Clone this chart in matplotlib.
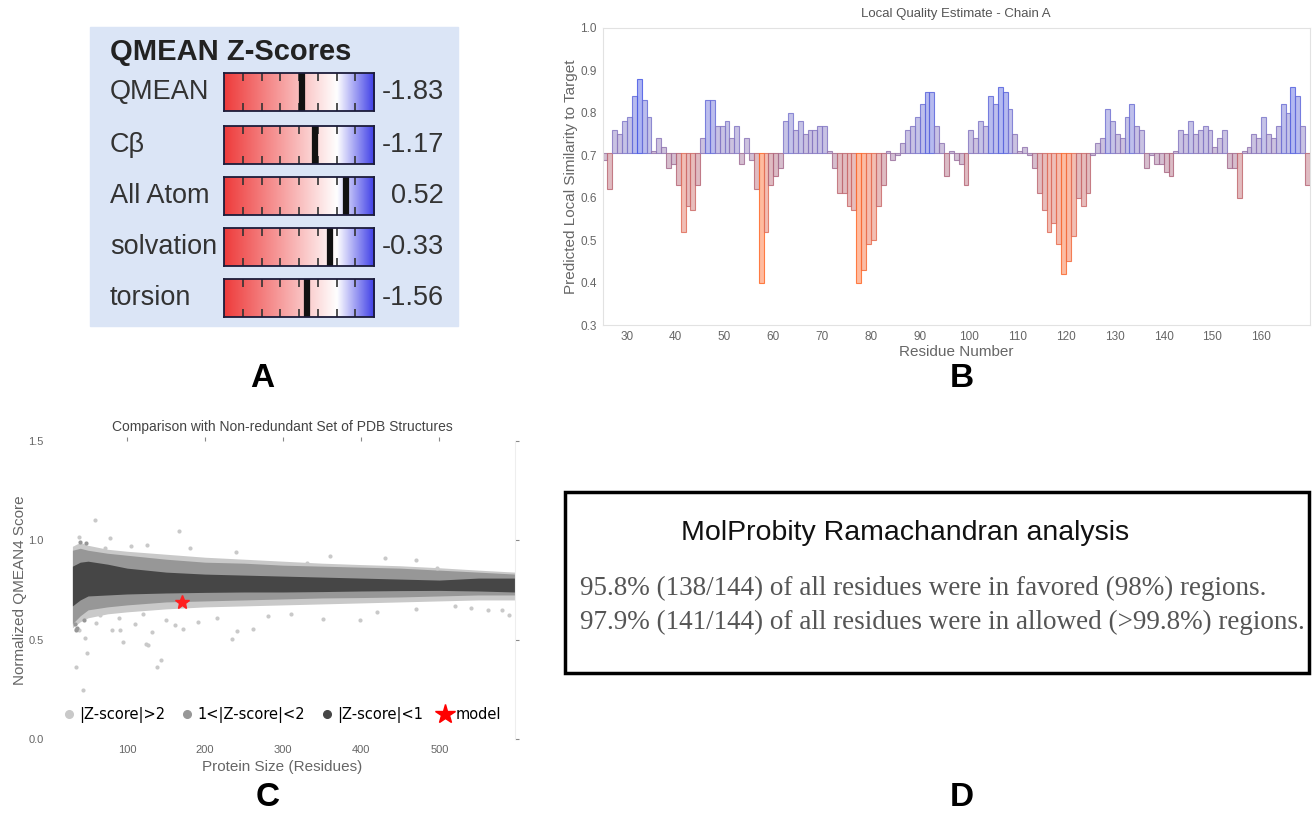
import numpy as np
import matplotlib
matplotlib.use("Agg")
import matplotlib.pyplot as plt
from matplotlib.colors import LinearSegmentedColormap, Normalize
from matplotlib.lines import Line2D
from matplotlib.patches import Rectangle

# ---- panel A: QMEAN Z-scores
z_names = ["QMEAN", "Cβ", "All Atom", "solvation", "torsion"]
z_values = [-1.83, -1.17, 0.52, -0.33, -1.56]

# ---- panel B: local quality per residue
residues = np.arange(25, 170)
local_q = [
    0.69, 0.62, 0.76, 0.75, 0.78, 0.79, 0.84, 0.88, 0.83, 0.79,
    0.71, 0.74, 0.72, 0.67, 0.68, 0.63, 0.52, 0.58, 0.57, 0.63,
    0.74, 0.83, 0.83, 0.77, 0.77, 0.78, 0.74, 0.77, 0.68, 0.74,
    0.69, 0.62, 0.40, 0.52, 0.63, 0.65, 0.67, 0.78, 0.80, 0.76,
    0.78, 0.75, 0.76, 0.76, 0.77, 0.77, 0.71, 0.67, 0.61, 0.61,
    0.58, 0.57, 0.40, 0.43, 0.49, 0.50, 0.58, 0.63, 0.71, 0.69,
    0.70, 0.73, 0.76, 0.77, 0.79, 0.82, 0.85, 0.85, 0.77, 0.73,
    0.65, 0.71, 0.69, 0.68, 0.63, 0.76, 0.74, 0.78, 0.77, 0.84,
    0.82, 0.86, 0.85, 0.81, 0.75, 0.71, 0.72, 0.70, 0.67, 0.61,
    0.57, 0.52, 0.54, 0.49, 0.42, 0.45, 0.51, 0.60, 0.58, 0.61,
    0.70, 0.73, 0.74, 0.81, 0.78, 0.75, 0.74, 0.79, 0.82, 0.77,
    0.76, 0.67, 0.70, 0.68, 0.68, 0.66, 0.65, 0.71, 0.76, 0.75,
    0.78, 0.75, 0.76, 0.77, 0.76, 0.72, 0.74, 0.76, 0.67, 0.67,
    0.60, 0.71, 0.72, 0.75, 0.74, 0.79, 0.75, 0.74, 0.77, 0.82,
    0.80, 0.86, 0.84, 0.77, 0.63,
]

# ---- panel C: reference set envelopes + scattered points
size_x = [30, 40, 50, 75, 100, 150, 200, 250, 300, 350, 400, 450, 500, 550, 597]
dark_hi = [0.87, 0.89, 0.895, 0.88, 0.86, 0.84, 0.83, 0.825, 0.82, 0.815, 0.81, 0.805, 0.80, 0.81, 0.81]
dark_lo = [0.67, 0.70, 0.72, 0.725, 0.73, 0.735, 0.738, 0.74, 0.74, 0.742, 0.745, 0.747, 0.748, 0.745, 0.74]
mid_hi = [0.95, 0.96, 0.95, 0.935, 0.925, 0.905, 0.89, 0.885, 0.875, 0.87, 0.865, 0.86, 0.85, 0.84, 0.83]
mid_lo = [0.58, 0.62, 0.65, 0.665, 0.675, 0.69, 0.695, 0.70, 0.705, 0.71, 0.712, 0.715, 0.72, 0.725, 0.725]
light_hi = [0.97, 0.99, 0.975, 0.955, 0.945, 0.93, 0.915, 0.905, 0.895, 0.885, 0.878, 0.872, 0.862, 0.85, 0.84]
light_lo = [0.56, 0.59, 0.61, 0.63, 0.64, 0.655, 0.665, 0.67, 0.675, 0.68, 0.685, 0.69, 0.695, 0.70, 0.70]
out_x = [59, 167, 38, 78, 72, 331, 497, 562, 589, 580, 351, 399, 261, 235, 241, 34, 43,
         49, 46, 95, 124, 127, 139, 143, 132, 81, 91, 110, 65, 161, 172, 191, 34, 38,
         150, 215, 280, 310, 420, 470, 520, 540, 120, 90, 60, 105, 125, 180, 240, 360,
         430, 470]
out_y = [1.10, 1.047, 1.017, 1.013, 0.963, 0.888, 0.863, 0.647, 0.622, 0.65, 0.605,
         0.597, 0.555, 0.505, 0.543, 0.363, 0.247, 0.433, 0.508, 0.488, 0.48, 0.475,
         0.363, 0.40, 0.538, 0.55, 0.55, 0.58, 0.622, 0.572, 0.555, 0.588, 0.555,
         0.547, 0.60, 0.61, 0.62, 0.63, 0.64, 0.655, 0.67, 0.66, 0.63, 0.61, 0.585,
         0.97, 0.975, 0.96, 0.94, 0.92, 0.91, 0.90]
mid_x = [35, 40, 48, 36, 45, 33]
mid_y = [0.55, 0.99, 0.985, 0.56, 0.60, 0.58]
model_size = 170
model_score = 0.69

# ---- panel D text
rama_title = "MolProbity Ramachandran analysis"
rama_lines = ["95.8% (138/144) of all residues were in favored (98%) regions.",
              "97.9% (141/144) of all residues were in allowed (>99.8%) regions."]

W, H = 1312, 813
fig = plt.figure(figsize=(W / 100, H / 100), dpi=100)


def px_axes(left, top, width, height):
    return fig.add_axes([left / W, 1 - (top + height) / H, width / W, height / H])


# overlay in pixel coordinates for boxes and labels
over = fig.add_axes([0, 0, 1, 1])
over.set_xlim(0, W)
over.set_ylim(H, 0)
over.axis("off")

sans = "Liberation Sans"

# ---------------- panel A
over.add_patch(Rectangle((90, 27), 368, 299, color="#dbe5f6", zorder=0))
over.text(110, 52, "QMEAN Z-Scores", fontsize=21, fontweight="bold", family=sans,
          color="#222222", va="center", ha="left")
zcmap = LinearSegmentedColormap.from_list(
    "zs", [(0, "#ee3b3b"), (0.75, "#ffffff"), (1.0, "#3c3ce6")])
grad = np.linspace(-6, 2, 256).reshape(1, -1)
row_tops = [73, 126, 177, 228, 279]
for name, val, top in zip(z_names, z_values, row_tops):
    ax = px_axes(224, top, 150, 38)
    ax.imshow(grad, extent=(-6, 2, 0, 1), aspect="auto", cmap=zcmap,
              norm=Normalize(-6, 2), interpolation="bicubic")
    ax.axvline(val, color="#111111", lw=4.5)
    ax.set_xlim(-6, 2)
    ax.set_ylim(0, 1)
    ax.set_xticks(range(-5, 2))
    ax.set_yticks([])
    ax.tick_params(axis="x", direction="in", top=True, bottom=True, length=6,
                   width=1.2, color="#333333", labelbottom=False)
    for s in ax.spines.values():
        s.set_color("#1c1c3a")
        s.set_linewidth(1.3)
    yc = top + 19
    over.text(110, yc, name, fontsize=19.5, family=sans, color="#333333",
              va="center", ha="left")
    over.text(444, yc, "%.2f" % val, fontsize=19.5, family=sans, color="#333333",
              va="center", ha="right")

# ---------------- panel B
axb = px_axes(602.6, 28, 707.4, 297)
qcmap = LinearSegmentedColormap.from_list(
    "lq", [(0.0, "#ff6a2a"), (0.25, "#e0705e"), (0.5, "#b0687e"),
           (0.6, "#9a78aa"), (0.8, "#7c7ad0"), (1.0, "#3f55ea")])
qnorm = Normalize(0.4, 0.9)
base = 0.705
heights = [v - base for v in local_q]
face = [qcmap(qnorm(v)) for v in local_q]
face_a = [(r, g, b, 0.45) for r, g, b, _ in face]
edge_a = [(r, g, b, 0.85) for r, g, b, _ in face]
axb.bar(residues, heights, bottom=base, width=1.0, align="edge",
        color=face_a, edgecolor=edge_a, linewidth=0.8)
axb.set_xlim(25, 170)
axb.set_ylim(0.3, 1.0)
axb.set_xticks(range(30, 170, 10))
axb.set_yticks(np.arange(0.3, 1.01, 0.1))
axb.set_yticklabels(["%.1f" % t for t in np.arange(0.3, 1.01, 0.1)])
axb.tick_params(length=0, labelsize=8.5, labelcolor="#666666", pad=4)
for s in axb.spines.values():
    s.set_color("#e2e2e2")
axb.set_title("Local Quality Estimate - Chain A", fontsize=9.5, color="#555555",
              pad=8, family=sans)
axb.set_xlabel("Residue Number", fontsize=11, color="#666666", labelpad=2, family=sans)
axb.set_ylabel("Predicted Local Similarity to Target", fontsize=11, color="#666666",
               labelpad=2, family=sans)
for lab in axb.get_xticklabels() + axb.get_yticklabels():
    lab.set_family(sans)

# ---------------- panel C
axc = px_axes(49, 441, 466, 298)
light_c, mid_c, dark_c = "#c9c9c9", "#979797", "#464646"
axc.fill_between(size_x, light_lo, light_hi, color=light_c, lw=0)
axc.fill_between(size_x, mid_lo, mid_hi, color=mid_c, lw=0)
axc.fill_between(size_x, dark_lo, dark_hi, color=dark_c, lw=0)
axc.scatter(out_x, out_y, s=9, color=light_c, lw=0)
axc.scatter(mid_x, mid_y, s=9, color=mid_c, lw=0)
axc.plot(model_size, model_score, marker="*", color="#ff2020", ms=10, ls="none")
axc.set_xlim(0, 597)
axc.set_ylim(0, 1.5)
axc.set_xticks([100, 200, 300, 400, 500])
axc.set_yticks([0.0, 0.5, 1.0, 1.5])
axc.tick_params(left=False, bottom=False, top=True, right=True, length=3,
                color="#888888", labelsize=8, labelcolor="#666666", pad=1)
for s in axc.spines.values():
    s.set_visible(False)
axc.spines["right"].set_visible(True)
axc.spines["right"].set_color("#eeeeee")
axc.set_title("Comparison with Non-redundant Set of PDB Structures", fontsize=10,
              color="#444444", pad=7, family=sans)
axc.set_xlabel("Protein Size (Residues)", fontsize=11, color="#666666", family=sans,
               labelpad=4)
axc.set_ylabel("Normalized QMEAN4 Score", fontsize=11, color="#666666", family=sans,
               labelpad=1)
for lab in axc.get_xticklabels() + axc.get_yticklabels():
    lab.set_family(sans)
handles = [
    Line2D([], [], marker="o", ls="none", color=light_c, ms=5.5),
    Line2D([], [], marker="o", ls="none", color=mid_c, ms=5.5),
    Line2D([], [], marker="o", ls="none", color=dark_c, ms=5.5),
    Line2D([], [], marker="*", ls="none", color="#ff0000", ms=15),
]
axc.legend(handles, ["|Z-score|>2", "1<|Z-score|<2", "|Z-score|<1", "model"],
           loc="lower center", bbox_to_anchor=(0.5, 0.035), ncol=4, frameon=False,
           fontsize=10.5, handlelength=0.8, handletextpad=0.3, columnspacing=1.1,
           borderaxespad=0)

# ---------------- panel D
over.add_patch(Rectangle((565, 492), 744, 181, fill=False, ec="black", lw=2.5))
over.text(905, 533, rama_title, fontsize=20.5, family=sans, color="#111111",
          ha="center", va="center")
for i, line in enumerate(rama_lines):
    over.text(580, 588 + 34 * i, line, fontsize=19.5, family="Liberation Serif",
              color="#555555", ha="left", va="center")

# ---------------- panel letters
for letter, x, y in [("A", 262, 378), ("B", 962, 378), ("C", 268, 797), ("D", 962, 797)]:
    over.text(x, y, letter, fontsize=24, fontweight="bold", family=sans,
              ha="center", va="center", color="black")

fig.savefig("out.png", dpi=100)
